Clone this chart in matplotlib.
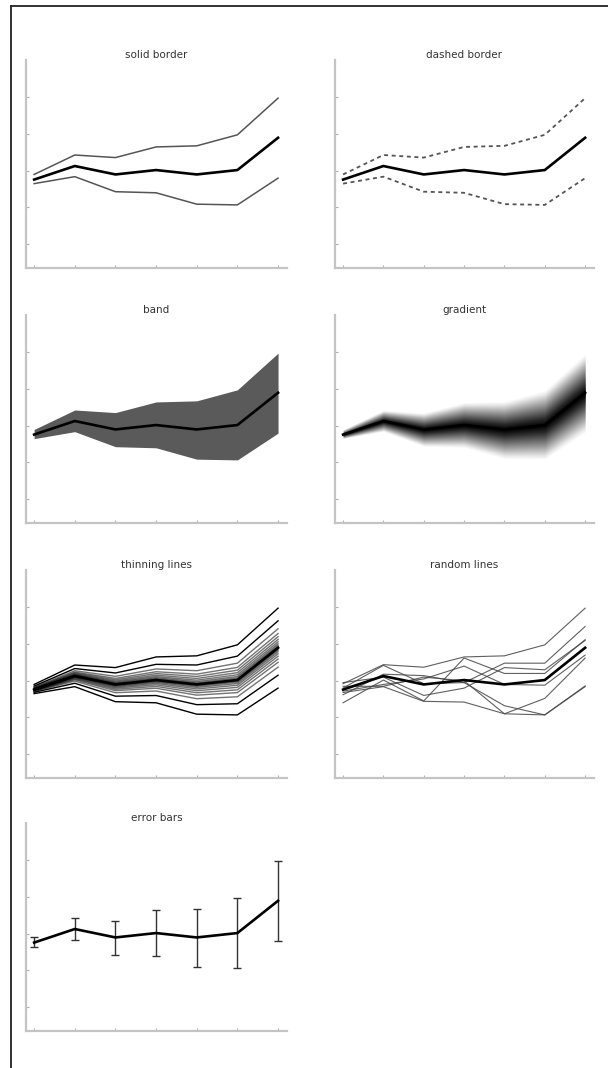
import numpy as np
import matplotlib
matplotlib.use("Agg")
import matplotlib.pyplot as plt
from matplotlib.lines import Line2D

# ---- data ----
x_pos = [0, 1, 2, 3, 4, 5, 6]
mean_vals = [2.76, 3.13, 2.90, 3.02, 2.90, 3.02, 3.90]
upper_vals = [2.90, 3.43, 3.36, 3.65, 3.68, 3.98, 4.98]
lower_vals = [2.65, 2.84, 2.43, 2.40, 2.09, 2.07, 2.80]

# sample lines drawn in the "random lines" panel
rand_line_1 = [2.92, 3.44, 3.37, 3.65, 3.68, 3.98, 4.98]
rand_line_2 = [2.62, 3.18, 3.14, 2.95, 3.48, 3.48, 4.48]
rand_line_3 = [2.40, 3.02, 2.45, 3.62, 3.20, 3.20, 4.12]
rand_line_4 = [2.85, 2.85, 3.10, 3.00, 2.10, 2.52, 3.62]
rand_line_5 = [2.68, 2.84, 2.44, 2.42, 2.10, 2.07, 2.84]
rand_line_6 = [2.80, 3.42, 2.92, 2.95, 2.32, 2.07, 2.86]
rand_line_7 = [2.95, 3.10, 2.60, 2.80, 3.36, 3.30, 4.10]
rand_line_8 = [2.72, 2.90, 3.05, 3.40, 2.90, 2.88, 3.70]
random_lines = [rand_line_1, rand_line_2, rand_line_3, rand_line_4,
                rand_line_5, rand_line_6, rand_line_7, rand_line_8]

# offsets (fraction of band half-width) for the "thinning lines" panel
thin_offsets = [-1.0, -0.68, -0.48, -0.36, -0.28, -0.21, -0.15, -0.10, -0.06, -0.03,
                0.0, 0.03, 0.06, 0.10, 0.15, 0.21, 0.28, 0.36, 0.48, 0.68, 1.0]

titles = ["solid border", "dashed border", "band", "gradient",
          "thinning lines", "random lines", "error bars"]

y_ticks = [1, 2, 3, 4, 5]

# ---- figure ----
W, H = 608, 1068
fig = plt.figure(figsize=(W / 100, H / 100), dpi=100)

x = np.array(x_pos, dtype=float)
m = np.array(mean_vals)
up = np.array(upper_vals)
lo = np.array(lower_vals)

lefts = [26, 335]
widths = [261, 259]
tops = [60, 315, 570, 823]
ax_h = 208

spine_col = "#c4c4c4"


def make_ax(row, col):
    left = lefts[col] / W
    bottom = 1 - (tops[row] + ax_h) / H
    ax = fig.add_axes([left, bottom, widths[col] / W, ax_h / H])
    ax.set_xlim(-0.2, 6.22)
    ax.set_ylim(0.35, 6.02)
    for s in ["top", "right"]:
        ax.spines[s].set_visible(False)
    for s in ["left", "bottom"]:
        ax.spines[s].set_color(spine_col)
        ax.spines[s].set_linewidth(1.6)
    ax.set_xticks(x_pos)
    ax.set_yticks(y_ticks)
    ax.tick_params(direction="in", length=2.5, width=0.8, color="#b0b0b0",
                   labelleft=False, labelbottom=False)
    return ax


def set_title(ax, t):
    ax.set_title(t, fontsize=7.5, color="#333333", pad=1.5)


mean_kw = dict(color="black", lw=1.9, zorder=5)

# 1 solid border
ax = make_ax(0, 0)
ax.plot(x, up, color="#555555", lw=1.1)
ax.plot(x, lo, color="#555555", lw=1.1)
ax.plot(x, m, **mean_kw)
set_title(ax, titles[0])

# 2 dashed border
ax = make_ax(0, 1)
ax.plot(x, up, color="#555555", lw=1.3, ls=(0, (2.2, 2.0)))
ax.plot(x, lo, color="#555555", lw=1.3, ls=(0, (2.2, 2.0)))
ax.plot(x, m, **mean_kw)
set_title(ax, titles[1])

# 3 band
ax = make_ax(1, 0)
ax.fill_between(x, lo, up, color="#5a5a5a", lw=0)
ax.plot(x, m, **mean_kw)
set_title(ax, titles[2])

# 4 gradient: nested bands composited to a target opacity profile
ax = make_ax(1, 1)
fracs = np.linspace(1.0, 0.01, 70)
target = np.clip((1.0 - fracs) ** 1.1, 0, 0.995)
prev = 0.0
for f, o in zip(fracs, target):
    a = 1 - (1 - o) / (1 - prev)
    prev = o
    if a <= 0:
        continue
    ax.fill_between(x, m - f * (m - lo), m + f * (up - m), color="black",
                    alpha=float(a), lw=0)
ax.plot(x, m, **mean_kw)
set_title(ax, titles[3])

# 5 thinning lines
ax = make_ax(2, 0)
for k in thin_offsets:
    yy = np.where(k >= 0, m + k * (up - m), m + k * (m - lo))
    a = 1.0 if abs(k) > 0.6 else 0.55
    ax.plot(x, yy, color="black", lw=1.0, alpha=a)
ax.plot(x, m, **mean_kw)
set_title(ax, titles[4])

# 6 random lines
ax = make_ax(2, 1)
for rl in random_lines:
    ax.plot(x, rl, color="#444444", lw=0.8, alpha=0.85)
ax.plot(x, m, **mean_kw)
set_title(ax, titles[5])

# 7 error bars
ax = make_ax(3, 0)
ax.errorbar(x, m, yerr=[m - lo, up - m], color="black", lw=1.9,
            ecolor="#333333", elinewidth=1.0, capsize=3, capthick=1.0)
set_title(ax, titles[6])

# outer frame lines (image border)
fig.add_artist(Line2D([10.5 / W, 10.5 / W], [0, 1 - 5.5 / H],
                      transform=fig.transFigure, color="#222222", lw=1.3))
fig.add_artist(Line2D([10.5 / W, 1], [1 - 5.5 / H, 1 - 5.5 / H],
                      transform=fig.transFigure, color="#222222", lw=1.3))

fig.savefig("out.png", dpi=100)
